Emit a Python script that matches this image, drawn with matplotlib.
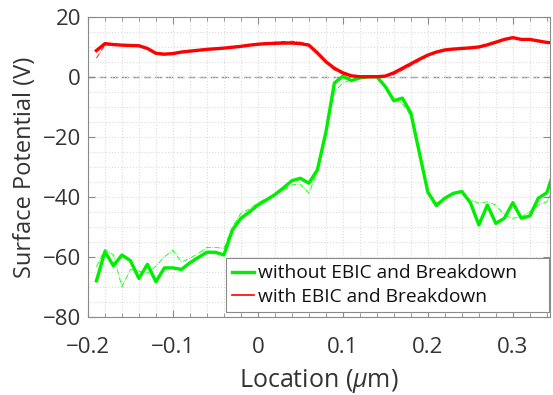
import numpy as np
import matplotlib
matplotlib.use('Agg')
import matplotlib.pyplot as plt
from matplotlib.lines import Line2D
from matplotlib.ticker import MultipleLocator

plt.rcParams['font.family'] = ['Open Sans', 'DejaVu Sans']
plt.rcParams['mathtext.fontset'] = 'custom'
plt.rcParams['mathtext.it'] = 'Open Sans:italic'

# Location (um), sampled every 0.01
location = [-0.19, -0.18, -0.17, -0.16, -0.15, -0.14, -0.13, -0.12, -0.11, -0.10,
            -0.09, -0.08, -0.07, -0.06, -0.05, -0.04, -0.03, -0.02, -0.01, 0.00,
            0.01, 0.02, 0.03, 0.04, 0.05, 0.06, 0.07, 0.08, 0.09, 0.10,
            0.11, 0.12, 0.13, 0.14, 0.15, 0.16, 0.17, 0.18, 0.19, 0.20,
            0.21, 0.22, 0.23, 0.24, 0.25, 0.26, 0.27, 0.28, 0.29, 0.30,
            0.31, 0.32, 0.33, 0.34, 0.35]

# without EBIC and Breakdown (thick line and thin dash-dot companion)
green_main = [-67.9, -58.2, -62.9, -59.3, -61.2, -67.1, -62.4, -68.2, -63.6, -63.6,
              -64.1, -61.9, -60.1, -58.4, -58.4, -59.3, -51.0, -47.1, -45.0, -42.7,
              -41.0, -39.2, -37.0, -34.6, -33.8, -35.4, -31.0, -18.5, -2.1, 0.2,
              -1.3, -0.4, 0.0, 0.0, -3.3, -8.0, -7.1, -12.1, -25.3, -38.4,
              -42.9, -40.4, -38.8, -38.2, -41.9, -49.3, -42.7, -48.8, -47.1, -41.9,
              -47.1, -46.3, -40.4, -38.6, -30.0]
green_thin = [-63.2, -57.4, -59.3, -69.9, -64.1, -64.7, -65.4, -63.0, -59.9, -57.7,
              -61.6, -60.4, -58.8, -56.8, -56.8, -57.1, -50.0, -45.4, -44.0, -42.0,
              -40.5, -39.2, -37.8, -36.0, -35.7, -38.8, -31.5, -17.0, -5.0, -2.1,
              -1.0, -0.3, 0.0, 0.0, -3.0, -7.5, -9.0, -13.0, -26.0, -38.0,
              -42.0, -40.5, -39.0, -38.5, -41.0, -42.1, -41.6, -42.7, -46.0, -47.1,
              -46.6, -44.9, -42.7, -41.6, -36.0]

# with EBIC and Breakdown
red_main = [8.7, 11.0, 10.7, 10.5, 10.4, 10.3, 9.4, 7.8, 7.5, 7.7,
            8.2, 8.5, 8.8, 9.1, 9.3, 9.5, 9.8, 10.1, 10.5, 10.8,
            11.0, 11.1, 11.2, 11.2, 11.0, 10.5, 7.9, 5.0, 2.8, 1.3,
            0.3, 0.0, 0.0, 0.0, 0.2, 1.3, 2.8, 4.3, 5.8, 7.2,
            8.2, 8.9, 9.2, 9.4, 9.6, 9.9, 10.6, 11.5, 12.4, 13.0,
            12.4, 12.4, 11.9, 11.4, 11.2]
red_thin = [6.2, 10.5, 10.6, 10.5, 10.4, 10.2, 9.2, 7.4, 7.2, 7.6,
            8.1, 8.6, 8.9, 9.2, 9.4, 9.6, 9.8, 10.1, 10.6, 11.0,
            11.3, 11.5, 11.7, 11.8, 11.5, 10.8, 8.2, 5.0, 2.3, 0.8,
            0.1, 0.0, 0.0, 0.0, 0.0, 0.8, 2.2, 3.7, 5.3, 6.9,
            8.0, 8.8, 9.2, 9.5, 9.7, 10.1, 10.8, 11.7, 12.5, 13.0,
            12.6, 12.5, 12.0, 11.5, 11.3]

labels = ['without EBIC and Breakdown', 'with EBIC and Breakdown']

text_c = '#333333'
axis_c = '#8a8a8a'

fig = plt.figure(figsize=(5.53, 3.95), dpi=100)
ax = fig.add_axes([0.159, 0.197, 0.836, 0.761])

ax.axhline(0, color='#8c8c8c', ls=(0, (5, 3)), lw=1.0, zorder=1)

ax.plot(location, green_thin, color='#00ff00', lw=0.6, ls='-.', zorder=2)
ax.plot(location, green_main, color='#00ee00', lw=2.4, zorder=3)
ax.plot(location, red_thin, color='#ff0000', lw=0.6, ls='-.', zorder=2)
ax.plot(location, red_main, color='#ff0000', lw=2.4, zorder=3)

ax.set_xlim(-0.2, 0.344)
ax.set_ylim(-80, 20)
ax.xaxis.set_minor_locator(MultipleLocator(0.02))
ax.yaxis.set_minor_locator(MultipleLocator(5))
ax.set_xticks([-0.2, -0.1, 0, 0.1, 0.2, 0.3])
ax.set_xticklabels(['\u22120.2', '\u22120.1', '0', '0.1', '0.2', '0.3'])
ax.set_yticks([-80, -60, -40, -20, 0, 20])
ax.set_yticklabels(['\u221280', '\u221260', '\u221240', '\u221220', '0', '20'])

ax.grid(which='both', color='#dcdcdc', ls=':', lw=0.8, zorder=0)
ax.tick_params(which='both', direction='in', top=True, right=True,
               colors=axis_c, labelcolor=text_c, labelsize=16)
ax.tick_params(axis='x', which='major', length=5, pad=14)
ax.tick_params(axis='x', which='minor', length=3)
ax.tick_params(axis='y', which='major', length=5, pad=5)
ax.tick_params(axis='y', which='minor', length=0)
for s in ax.spines.values():
    s.set_color(axis_c)
    s.set_linewidth(0.8)

ax.set_xlabel('Location ($\\mu$m)', fontsize=18, color=text_c, labelpad=7)
ax.set_ylabel('Surface Potential (V)', fontsize=17, color=text_c, labelpad=4)

handles = [Line2D([], [], color='#00ee00', lw=2.4),
           Line2D([], [], color='#ff0000', lw=1.2)]
leg = ax.legend(handles, labels, loc='lower left', mode='expand',
                bbox_to_anchor=(0.2987, 0.0176, 0.699, 0.183),
                fontsize=13.8, frameon=True, fancybox=False, framealpha=1,
                edgecolor=axis_c, handlelength=1.15, handletextpad=0.2,
                borderpad=0.32, labelspacing=0.28, borderaxespad=0)
leg.get_frame().set_linewidth(0.8)
for t in leg.get_texts():
    t.set_color('#111111')

fig.savefig('out.png', dpi=100)
